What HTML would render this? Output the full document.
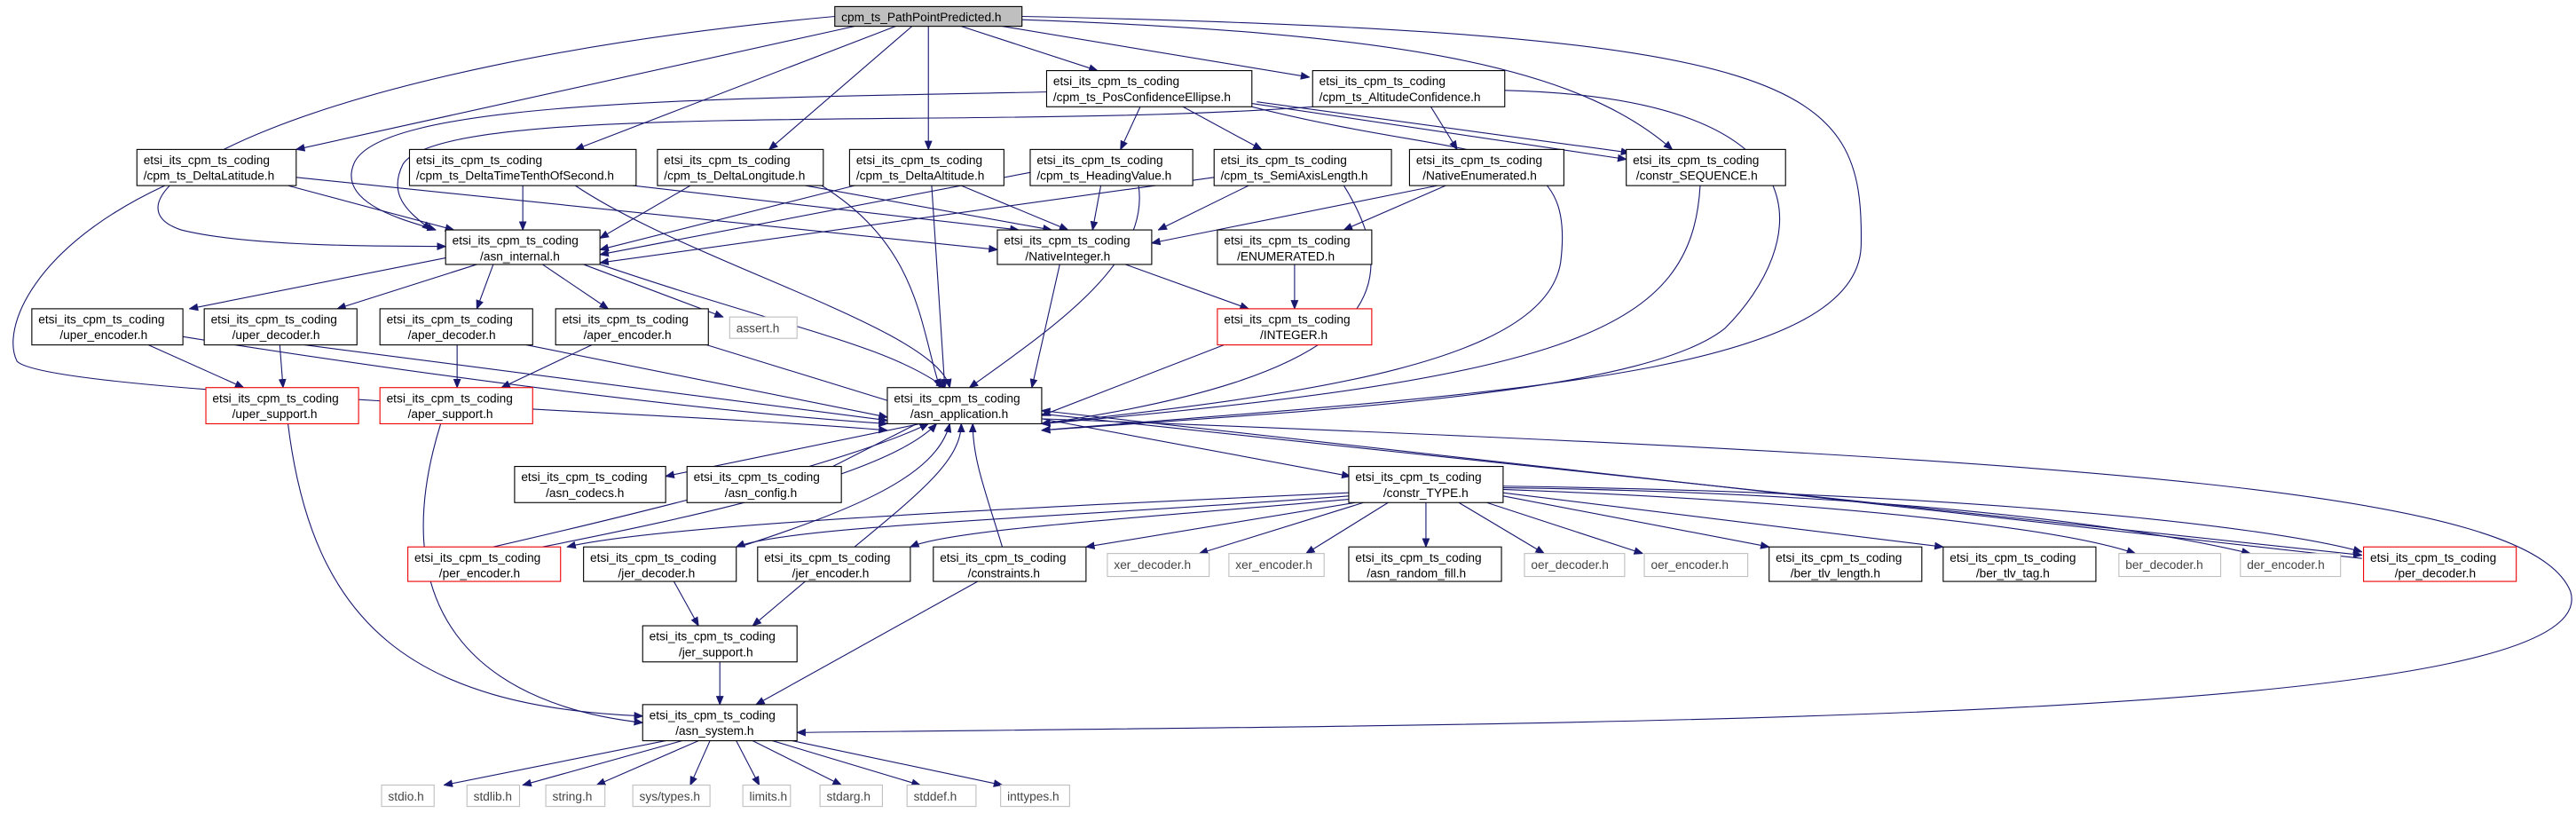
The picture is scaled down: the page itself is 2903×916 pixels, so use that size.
<!DOCTYPE html>
<html><head><meta charset="utf-8"><style>
html,body{margin:0;padding:0;background:#fff;}
svg{display:block;}
text{font-family:"Liberation Sans",sans-serif;font-size:7.4px;fill:#000;}
.g text,text.g{fill:#444;}
rect{fill:#fff;stroke:#000;stroke-width:0.6;}
rect.r{stroke:#e00;}
rect.gr{stroke:#bfbfbf;}
path{fill:none;stroke:#191970;stroke-width:0.6;}
</style></head><body>
<svg width="2903" height="916" viewBox="0 0 1568 495" xmlns="http://www.w3.org/2000/svg">
<defs><marker id="a" viewBox="0 0 10 10" refX="10" refY="5" markerWidth="5.5" markerHeight="5" markerUnits="userSpaceOnUse" orient="auto"><path d="M0,1 L10,5 L0,9z" style="fill:#191970;stroke:#191970;stroke-width:1"/></marker></defs>
<g marker-end="url(#a)">
<!-- top -->
<path d="M520,16 L180,91"/>
<path d="M545,16 L350,91"/>
<path d="M555,16 L468,91"/>
<path d="M565,16 L565,91"/>
<path d="M585,16 L668,43"/>
<path d="M610,16 L797,47"/>
<path d="M622,12 C850,20 960,40 1018,91"/>
<path d="M622,10 C1100,20 1135,50 1133,150 C1130,230 900,240 634,262"/>
<path d="M508,10 C180,40 50,120 110,140 C150,150 230,150 271,150"/>
<!-- PC AC -->
<path d="M637,56 C450,60 230,60 215,100 C205,125 250,135 265,140"/>
<path d="M694,65 L682,91"/>
<path d="M720,65 L768,91"/>
<path d="M762,63 L990,97"/>
<path d="M762,65 C900,100 960,80 950,160 C940,220 800,240 634,258"/>
<path d="M799,65 C600,80 270,60 245,100 C235,120 250,130 262,140"/>
<path d="M871,65 L887,91"/>
<path d="M765,62 L992,93"/>
<path d="M916,55 C1120,60 1100,150 1050,200 C1000,240 800,250 634,262"/>
<!-- row3 -->
<path d="M175,113 L276,140"/>
<path d="M180,108 L607,152"/>
<path d="M100,113 C20,150 0,200 10,220 C30,240 400,250 540,262"/>
<path d="M318,113 L318,140"/>
<path d="M385,113 L620,140"/>
<path d="M350,113 C420,160 570,200 578,236"/>
<path d="M420,113 L365,145"/>
<path d="M490,113 L640,140"/>
<path d="M500,113 C560,150 560,200 572,236"/>
<path d="M520,113 L365,152"/>
<path d="M585,113 L650,140"/>
<path d="M567,113 L575,236"/>
<path d="M627,105 L365,155"/>
<path d="M670,113 L665,140"/>
<path d="M693,113 C700,160 640,200 590,236"/>
<path d="M739,108 L365,160"/>
<path d="M760,113 L705,140"/>
<path d="M818,113 C860,180 830,230 634,258"/>
<path d="M875,113 L701,148"/>
<path d="M880,113 L818,140"/>
<path d="M1035,113 C1030,200 960,230 634,258"/>
<!-- row4 -->
<path d="M271,157 L115,188"/>
<path d="M290,161 L205,188"/>
<path d="M300,161 L290,188"/>
<path d="M330,161 L370,188"/>
<path d="M355,161 L440,193"/>
<path d="M365,161 C480,200 540,210 575,236"/>
<path d="M645,161 L628,236"/>
<path d="M685,161 L760,188"/>
<path d="M788,161 L788,188"/>
<path d="M745,210 L634,253"/>
<!-- row5 -->
<path d="M90,210 L148,236"/>
<path d="M111,205 C300,235 450,252 540,258"/>
<path d="M170,210 L172,236"/>
<path d="M185,210 L540,256"/>
<path d="M278,210 L278,236"/>
<path d="M320,210 L540,254"/>
<path d="M360,210 L305,236"/>
<path d="M430,210 L560,250"/>
<!-- row6 -->
<path d="M175,258 C190,380 250,430 391,436"/>
<path d="M268,258 C230,380 300,430 391,440"/>
<path d="M560,258 L405,290"/>
<path d="M558,258 L495,290"/>
<path d="M634,255 L822,290"/>
<path d="M634,255 C1300,280 1540,300 1565,360 C1590,440 1000,440 485,446"/>
<path d="M634,252 L1438,338"/>
<path d="M1438,340 L634,250"/>
<!-- row8 -> AA -->
<path d="M300,333 C400,310 520,280 565,258"/>
<path d="M330,333 C420,315 540,290 570,258"/>
<path d="M450,333 C520,310 570,290 578,258"/>
<path d="M520,333 C560,300 585,280 585,258"/>
<path d="M610,333 C600,300 592,280 592,258"/>
<!-- CT -> row8 -->
<path d="M821,300 C600,310 400,320 345,333"/>
<path d="M821,302 C650,315 480,320 448,333"/>
<path d="M821,304 C700,315 580,322 554,333"/>
<path d="M825,306 L661,333"/>
<path d="M830,306 L730,337"/>
<path d="M845,306 L795,337"/>
<path d="M868,306 L868,333"/>
<path d="M888,306 L940,337"/>
<path d="M905,306 L1000,337"/>
<path d="M915,302 L1077,333"/>
<path d="M915,300 L1183,333"/>
<path d="M915,298 C1100,305 1250,320 1300,337"/>
<path d="M915,297 C1150,300 1300,320 1370,337"/>
<path d="M915,296 C1200,300 1380,320 1438,336"/>
<path d="M410,354 L425,381"/>
<path d="M490,354 L458,381"/>
<path d="M595,354 L460,429"/>
<path d="M438,403 L438,429"/>
<!-- SY -> leaves -->
<path d="M405,451 L270,478"/>
<path d="M415,451 L318,478"/>
<path d="M425,451 L363,478"/>
<path d="M432,451 L420,478"/>
<path d="M448,451 L462,478"/>
<path d="M458,451 L512,478"/>
<path d="M470,451 L560,478"/>
<path d="M482,451 L610,478"/>
</g>
<!-- nodes -->
<rect x="508" y="4" width="114" height="12" style="fill:#bfbfbf"/><text x="512" y="13">cpm_ts_PathPointPredicted.h</text>
<g>
<rect x="637" y="43" width="125" height="22"/><text x="641" y="52">etsi_its_cpm_ts_coding</text><text x="641" y="61.5">/cpm_ts_PosConfidenceEllipse.h</text>
<rect x="799" y="43" width="117" height="22"/><text x="803" y="52">etsi_its_cpm_ts_coding</text><text x="803" y="61.5">/cpm_ts_AltitudeConfidence.h</text>
<rect x="83" y="91" width="97" height="22"/><text x="87" y="100">etsi_its_cpm_ts_coding</text><text x="87" y="109.5">/cpm_ts_DeltaLatitude.h</text>
<rect x="249" y="91" width="138" height="22"/><text x="253" y="100">etsi_its_cpm_ts_coding</text><text x="253" y="109.5">/cpm_ts_DeltaTimeTenthOfSecond.h</text>
<rect x="400" y="91" width="101" height="22"/><text x="404" y="100">etsi_its_cpm_ts_coding</text><text x="404" y="109.5">/cpm_ts_DeltaLongitude.h</text>
<rect x="517" y="91" width="94" height="22"/><text x="521" y="100">etsi_its_cpm_ts_coding</text><text x="521" y="109.5">/cpm_ts_DeltaAltitude.h</text>
<rect x="627" y="91" width="99" height="22"/><text x="631" y="100">etsi_its_cpm_ts_coding</text><text x="631" y="109.5">/cpm_ts_HeadingValue.h</text>
<rect x="739" y="91" width="108" height="22"/><text x="743" y="100">etsi_its_cpm_ts_coding</text><text x="743" y="109.5">/cpm_ts_SemiAxisLength.h</text>
<rect x="858" y="91" width="94" height="22"/><text x="862" y="100">etsi_its_cpm_ts_coding</text><text x="866" y="109.5">/NativeEnumerated.h</text>
<rect x="990" y="91" width="97" height="22"/><text x="994" y="100">etsi_its_cpm_ts_coding</text><text x="996" y="109.5">/constr_SEQUENCE.h</text>
<rect x="271" y="140" width="94" height="21"/><text x="275" y="149">etsi_its_cpm_ts_coding</text><text x="292" y="158.5">/asn_internal.h</text>
<rect x="607" y="140" width="94" height="21"/><text x="611" y="149">etsi_its_cpm_ts_coding</text><text x="624" y="158.5">/NativeInteger.h</text>
<rect x="741" y="140" width="94" height="21"/><text x="745" y="149">etsi_its_cpm_ts_coding</text><text x="753" y="158.5">/ENUMERATED.h</text>
<rect x="19" y="188" width="92" height="22"/><text x="23" y="197">etsi_its_cpm_ts_coding</text><text x="36" y="206.5">/uper_encoder.h</text>
<rect x="124" y="188" width="93" height="22"/><text x="128" y="197">etsi_its_cpm_ts_coding</text><text x="141" y="206.5">/uper_decoder.h</text>
<rect x="231" y="188" width="93" height="22"/><text x="235" y="197">etsi_its_cpm_ts_coding</text><text x="248" y="206.5">/aper_decoder.h</text>
<rect x="338" y="188" width="93" height="22"/><text x="342" y="197">etsi_its_cpm_ts_coding</text><text x="355" y="206.5">/aper_encoder.h</text>
<rect class="gr" x="444" y="193" width="41" height="13"/><text class="g" x="448" y="202.5">assert.h</text>
<rect class="r" x="741" y="188" width="94" height="22"/><text x="745" y="197">etsi_its_cpm_ts_coding</text><text x="767" y="206.5">/INTEGER.h</text>
<rect class="r" x="125" y="236" width="93" height="22"/><text x="129" y="245">etsi_its_cpm_ts_coding</text><text x="141" y="254.5">/uper_support.h</text>
<rect class="r" x="231" y="236" width="93" height="22"/><text x="235" y="245">etsi_its_cpm_ts_coding</text><text x="248" y="254.5">/aper_support.h</text>
<rect x="540" y="236" width="94" height="22"/><text x="544" y="245">etsi_its_cpm_ts_coding</text><text x="554" y="254.5">/asn_application.h</text>
<rect x="313" y="284" width="92" height="22"/><text x="317" y="293">etsi_its_cpm_ts_coding</text><text x="332" y="302.5">/asn_codecs.h</text>
<rect x="418" y="284" width="94" height="22"/><text x="422" y="293">etsi_its_cpm_ts_coding</text><text x="441" y="302.5">/asn_config.h</text>
<rect x="821" y="284" width="94" height="22"/><text x="825" y="293">etsi_its_cpm_ts_coding</text><text x="842" y="302.5">/constr_TYPE.h</text>
<rect class="r" x="248" y="333" width="93" height="21"/><text x="252" y="342">etsi_its_cpm_ts_coding</text><text x="267" y="351.5">/per_encoder.h</text>
<rect x="355" y="333" width="93" height="21"/><text x="359" y="342">etsi_its_cpm_ts_coding</text><text x="376" y="351.5">/jer_decoder.h</text>
<rect x="461" y="333" width="93" height="21"/><text x="465" y="342">etsi_its_cpm_ts_coding</text><text x="482" y="351.5">/jer_encoder.h</text>
<rect x="568" y="333" width="93" height="21"/><text x="572" y="342">etsi_its_cpm_ts_coding</text><text x="589" y="351.5">/constraints.h</text>
<rect class="gr" x="674" y="337" width="62" height="14"/><text class="g" x="678" y="346.5">xer_decoder.h</text>
<rect class="gr" x="748" y="337" width="58" height="14"/><text class="g" x="752" y="346.5">xer_encoder.h</text>
<rect x="821" y="333" width="93" height="21"/><text x="825" y="342">etsi_its_cpm_ts_coding</text><text x="832" y="351.5">/asn_random_fill.h</text>
<rect class="gr" x="928" y="337" width="61" height="14"/><text class="g" x="932" y="346.5">oer_decoder.h</text>
<rect class="gr" x="1001" y="337" width="63" height="14"/><text class="g" x="1005" y="346.5">oer_encoder.h</text>
<rect x="1077" y="333" width="93" height="21"/><text x="1081" y="342">etsi_its_cpm_ts_coding</text><text x="1090" y="351.5">/ber_tlv_length.h</text>
<rect x="1183" y="333" width="93" height="21"/><text x="1187" y="342">etsi_its_cpm_ts_coding</text><text x="1203" y="351.5">/ber_tlv_tag.h</text>
<rect class="gr" x="1290" y="337" width="62" height="14"/><text class="g" x="1294" y="346.5">ber_decoder.h</text>
<rect class="gr" x="1364" y="337" width="61" height="14"/><text class="g" x="1368" y="346.5">der_encoder.h</text>
<rect class="r" x="1439" y="333" width="93" height="21"/><text x="1443" y="342">etsi_its_cpm_ts_coding</text><text x="1458" y="351.5">/per_decoder.h</text>
<rect x="391" y="381" width="94" height="22"/><text x="395" y="390">etsi_its_cpm_ts_coding</text><text x="413" y="399.5">/jer_support.h</text>
<rect x="391" y="429" width="94" height="22"/><text x="395" y="438">etsi_its_cpm_ts_coding</text><text x="411" y="447.5">/asn_system.h</text>
<rect class="gr" x="232" y="478" width="32" height="13"/><text class="g" x="236" y="487.5">stdio.h</text>
<rect class="gr" x="284" y="478" width="32" height="13"/><text class="g" x="288" y="487.5">stdlib.h</text>
<rect class="gr" x="332" y="478" width="36" height="13"/><text class="g" x="336" y="487.5">string.h</text>
<rect class="gr" x="385" y="478" width="47" height="13"/><text class="g" x="389" y="487.5">sys/types.h</text>
<rect class="gr" x="452" y="478" width="29" height="13"/><text class="g" x="456" y="487.5">limits.h</text>
<rect class="gr" x="499" y="478" width="38" height="13"/><text class="g" x="503" y="487.5">stdarg.h</text>
<rect class="gr" x="552" y="478" width="42" height="13"/><text class="g" x="556" y="487.5">stddef.h</text>
<rect class="gr" x="609" y="478" width="42" height="13"/><text class="g" x="613" y="487.5">inttypes.h</text>
</g>
</svg>
</body></html>
